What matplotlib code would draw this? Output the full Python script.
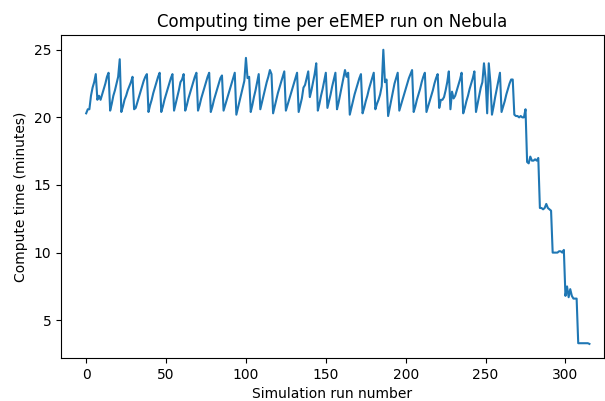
import numpy as np
import matplotlib
matplotlib.use("Agg")
import matplotlib.pyplot as plt

# compute time (minutes) per run, one line per saw tooth
compute_time = [
    20.3, 20.6, 20.6, 21.6, 22.2, 22.6, 23.2,
    21.3, 21.6, 21.3, 21.7, 22.1, 22.5, 23.0, 23.3,
    20.5, 21.0, 21.6, 22.0, 22.5, 23.0, 24.3,
    20.4, 20.8, 21.3, 21.6, 22.0, 22.3, 22.6, 23.0,
    20.6, 20.7, 21.1, 21.5, 21.9, 22.3, 22.7, 23.0, 23.2,
    20.4, 20.9, 21.3, 21.8, 22.2, 22.6, 23.0, 23.3,
    20.4, 20.8, 21.3, 21.7, 22.1, 22.5, 22.9, 23.2,
    20.5, 21.0, 21.5, 22.0, 22.6, 22.8, 23.2,
    20.5, 20.9, 21.4, 21.8, 22.2, 22.6, 23.0, 23.3,
    20.5, 20.9, 21.4, 21.8, 22.2, 22.6, 23.0, 23.3,
    20.4, 20.8, 21.3, 21.7, 22.1, 22.5, 22.9, 23.1,
    20.5, 20.9, 21.3, 21.7, 22.1, 22.5, 22.9, 23.3,
    20.2, 20.7, 21.2, 21.7, 22.2, 22.7, 24.4, 22.9, 23.0,
    20.4, 20.9, 21.5, 22.0, 22.6, 23.2,
    20.6, 21.1, 21.6, 22.1, 22.6, 23.0, 23.5, 23.2,
    20.3, 20.8, 21.3, 21.8, 22.2, 22.6, 23.0, 23.4,
    20.5, 20.9, 21.3, 21.7, 22.1, 22.5, 22.9, 23.3,
    20.4, 20.9, 21.4, 22.2, 22.4, 22.9, 23.4,
    21.5, 22.0, 22.6, 23.2, 24.0,
    20.5, 21.0, 21.6, 22.1, 22.7, 23.3,
    20.7, 21.2, 21.7, 22.3, 22.8, 23.3,
    20.6, 21.1, 21.7, 22.3, 22.9, 23.5, 23.0, 23.3,
    20.2, 20.7, 21.2, 21.7, 22.1, 22.5, 22.9, 23.2,
    20.3, 20.7, 21.2, 21.6, 22.1, 22.5, 22.9, 23.3,
    20.6, 21.0, 21.3, 21.7, 22.3, 25.0, 22.6, 22.8,
    20.1, 20.7, 21.3, 21.9, 22.5, 22.9, 23.3,
    20.5, 20.9, 21.3, 21.7, 22.1, 22.5, 22.9, 23.2, 23.5,
    20.4, 20.8, 21.3, 21.7, 22.1, 22.6, 23.0, 23.3,
    20.4, 20.8, 21.2, 21.6, 22.0, 22.5, 22.9, 23.2,
    20.7, 21.3, 21.3, 21.5, 22.0, 22.6, 23.4,
    20.6, 21.9, 21.4, 21.6, 22.0, 22.4, 22.8, 23.3,
    20.3, 20.7, 21.2, 21.6, 22.1, 22.5, 22.9, 23.4,
    20.4, 21.0, 21.6, 22.2, 22.6, 24.0, 22.9, 20.3, 24.0, 22.6,
    20.2, 20.8, 21.5, 22.1, 22.7, 23.3,
    20.4, 20.8, 21.2, 21.7, 22.1, 22.5, 22.8, 22.8,
    20.2, 20.1, 20.1, 20.0, 20.1, 20.0, 20.0, 20.6,
    16.7, 16.6, 17.1, 16.8, 16.8, 16.9, 16.8, 17.0,
    13.3, 13.3, 13.2, 13.3, 13.6, 13.3, 13.2, 13.1,
    10.0, 10.0, 10.0, 10.0, 10.1, 10.1, 10.0, 10.2,
    6.8, 7.5, 6.7, 7.3, 6.8, 6.6, 6.6, 6.6,
    3.3, 3.3, 3.3, 3.3, 3.3, 3.3, 3.3, 3.25,
]
run_number = np.arange(len(compute_time))

fig = plt.figure(figsize=(6.05, 4.01), dpi=100)
ax = fig.add_axes([0.101, 0.107, 0.897, 0.806])
ax.plot(run_number, compute_time, color='#1f77b4', linewidth=1.5)
ax.set_xlim(-15.7, 324)
ax.set_ylim(2.2, 26.1)
ax.set_title('Computing time per eEMEP run on Nebula')
ax.set_xlabel('Simulation run number')
ax.set_ylabel('Compute time (minutes)')
ax.set_xticks([0, 50, 100, 150, 200, 250, 300])
ax.set_yticks([5, 10, 15, 20, 25])

fig.savefig('out.png', dpi=100)
